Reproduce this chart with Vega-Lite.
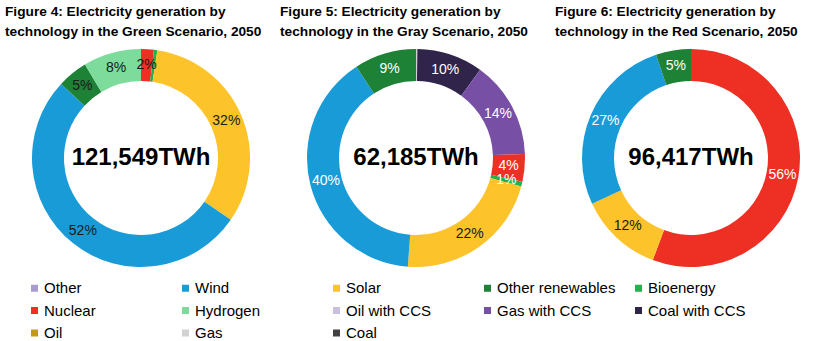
{
  "$schema": "https://vega.github.io/schema/vega-lite/v6.json",
  "padding": {"left": 5, "top": 5, "right": 0, "bottom": 0},
  "background": "white",
  "datasets": {
    "mix": [
      {"s": "Green", "tech": "Nuclear", "v": 1.9, "o": 3, "lab": "2%"},
      {"s": "Green", "tech": "Bioenergy", "v": 0.5, "o": 4, "lab": ""},
      {"s": "Green", "tech": "Solar", "v": 32.2, "o": 5, "lab": "32%"},
      {"s": "Green", "tech": "Wind", "v": 52.3, "o": 6, "lab": "52%"},
      {"s": "Green", "tech": "Other renewables", "v": 4.5, "o": 7, "lab": "5%"},
      {"s": "Green", "tech": "Hydrogen", "v": 8.6, "o": 8, "lab": "8%"},
      {"s": "Gray", "tech": "Gas", "v": 0.2, "o": 0, "lab": ""},
      {"s": "Gray", "tech": "Coal with CCS", "v": 9.8, "o": 1, "lab": "10%"},
      {"s": "Gray", "tech": "Gas with CCS", "v": 14.4, "o": 2, "lab": "14%"},
      {"s": "Gray", "tech": "Nuclear", "v": 4.1, "o": 3, "lab": "4%"},
      {"s": "Gray", "tech": "Bioenergy", "v": 0.7, "o": 4, "lab": "1%"},
      {"s": "Gray", "tech": "Solar", "v": 22.0, "o": 5, "lab": "22%"},
      {"s": "Gray", "tech": "Wind", "v": 39.6, "o": 6, "lab": "40%"},
      {"s": "Gray", "tech": "Other renewables", "v": 9.2, "o": 7, "lab": "9%"},
      {"s": "Red", "tech": "Nuclear", "v": 55.7, "o": 3, "lab": "56%"},
      {"s": "Red", "tech": "Solar", "v": 12.4, "o": 5, "lab": "12%"},
      {"s": "Red", "tech": "Wind", "v": 26.7, "o": 6, "lab": "27%"},
      {"s": "Red", "tech": "Other renewables", "v": 5.2, "o": 7, "lab": "5%"}
    ],
    "totals": [
      {"s": "Green", "t": "121,549TWh"},
      {"s": "Gray", "t": "62,185TWh"},
      {"s": "Red", "t": "96,417TWh"}
    ]
  },
  "hconcat": [
    {
      "width": 272, "height": 218,
      "title": {"text": ["Figure 4: Electricity generation by", "technology in the Green Scenario, 2050"]},
      "layer": [
        {
          "data": {"name": "mix"},
          "transform": [{"filter": "datum.s === 'Green'"}],
          "mark": {"type": "arc", "innerRadius": 77, "outerRadius": 109},
          "encoding": {
            "theta": {"field": "v", "type": "quantitative", "stack": true},
            "order": {"field": "o", "type": "quantitative"},
            "color": {
              "field": "tech", "type": "nominal",
              "scale": {
                "domain": ["Other", "Wind", "Solar", "Other renewables", "Bioenergy", "Nuclear", "Hydrogen", "Oil with CCS", "Gas with CCS", "Coal with CCS", "Oil", "Gas", "Coal"],
                "range": ["#ab9ad0", "#199bd8", "#fcc32a", "#1d8136", "#22b14c", "#ee3024", "#7ddc9c", "#cbbfe0", "#7750a6", "#30244a", "#c49a13", "#d2d2d2", "#404040"]
              },
              "legend": {"title": null}
            }
          }
        },
        {
          "data": {"name": "mix"},
          "transform": [{"filter": "datum.s === 'Green'"}],
          "mark": {"type": "text", "radius": 93, "fontSize": 14, "font": "Liberation Sans", "fill": "#1a1a1a"},
          "encoding": {
            "theta": {"field": "v", "type": "quantitative", "stack": true},
            "order": {"field": "o", "type": "quantitative"},
            "text": {"field": "lab", "type": "nominal"}
          }
        },
        {
          "data": {"name": "totals"},
          "transform": [{"filter": "datum.s === 'Green'"}],
          "mark": {"type": "text", "fontSize": 24, "fontWeight": "bold", "font": "Liberation Sans", "fill": "#000000"},
          "encoding": {"text": {"field": "t", "type": "nominal"}}
        }
      ]
    },
    {
      "width": 272, "height": 218,
      "title": {"text": ["Figure 5: Electricity generation by", "technology in the Gray Scenario, 2050"]},
      "layer": [
        {
          "data": {"name": "mix"},
          "transform": [{"filter": "datum.s === 'Gray'"}],
          "mark": {"type": "arc", "innerRadius": 77, "outerRadius": 109},
          "encoding": {
            "theta": {"field": "v", "type": "quantitative", "stack": true},
            "order": {"field": "o", "type": "quantitative"},
            "color": {"field": "tech", "type": "nominal", "legend": {"title": null}}
          }
        },
        {
          "data": {"name": "mix"},
          "transform": [{"filter": "datum.s === 'Gray'"}],
          "mark": {"type": "text", "radius": 93, "fontSize": 14, "font": "Liberation Sans"},
          "encoding": {
            "theta": {"field": "v", "type": "quantitative", "stack": true},
            "order": {"field": "o", "type": "quantitative"},
            "text": {"field": "lab", "type": "nominal"},
            "fill": {"condition": {"test": "datum.tech === 'Solar'", "value": "#1a1a1a"}, "value": "#ffffff"}
          }
        },
        {
          "data": {"name": "totals"},
          "transform": [{"filter": "datum.s === 'Gray'"}],
          "mark": {"type": "text", "fontSize": 24, "fontWeight": "bold", "font": "Liberation Sans", "fill": "#000000"},
          "encoding": {"text": {"field": "t", "type": "nominal"}}
        }
      ]
    },
    {
      "width": 272, "height": 218,
      "title": {"text": ["Figure 6: Electricity generation by", "technology in the Red Scenario, 2050"]},
      "layer": [
        {
          "data": {"name": "mix"},
          "transform": [{"filter": "datum.s === 'Red'"}],
          "mark": {"type": "arc", "innerRadius": 77, "outerRadius": 109},
          "encoding": {
            "theta": {"field": "v", "type": "quantitative", "stack": true},
            "order": {"field": "o", "type": "quantitative"},
            "color": {"field": "tech", "type": "nominal", "legend": {"title": null}}
          }
        },
        {
          "data": {"name": "mix"},
          "transform": [{"filter": "datum.s === 'Red'"}],
          "mark": {"type": "text", "radius": 93, "fontSize": 14, "font": "Liberation Sans"},
          "encoding": {
            "theta": {"field": "v", "type": "quantitative", "stack": true},
            "order": {"field": "o", "type": "quantitative"},
            "text": {"field": "lab", "type": "nominal"},
            "fill": {"condition": {"test": "datum.tech === 'Solar'", "value": "#1a1a1a"}, "value": "#ffffff"}
          }
        },
        {
          "data": {"name": "totals"},
          "transform": [{"filter": "datum.s === 'Red'"}],
          "mark": {"type": "text", "fontSize": 24, "fontWeight": "bold", "font": "Liberation Sans", "fill": "#000000"},
          "encoding": {"text": {"field": "t", "type": "nominal"}}
        }
      ]
    }
  ],
  "resolve": {"scale": {"color": "shared"}, "legend": {"color": "shared"}},
  "config": {
    "view": {"stroke": null},
    "concat": {"spacing": 3},
    "title": {"anchor": "start", "font": "Liberation Sans", "fontSize": 13.7, "fontWeight": "bold", "color": "#000000", "lineHeight": 20, "offset": 10},
    "legend": {
      "orient": "none", "legendX": 22, "legendY": 231.5, "direction": "horizontal", "columns": 5, "gridAlign": "all",
      "symbolType": "square", "symbolSize": 49, "symbolStrokeWidth": 0,
      "labelFont": "Liberation Sans", "labelFontSize": 15, "labelColor": "#000000", "labelOffset": 2, "labelLimit": 200,
      "columnPadding": 15, "rowPadding": 6.5
    }
  }
}
